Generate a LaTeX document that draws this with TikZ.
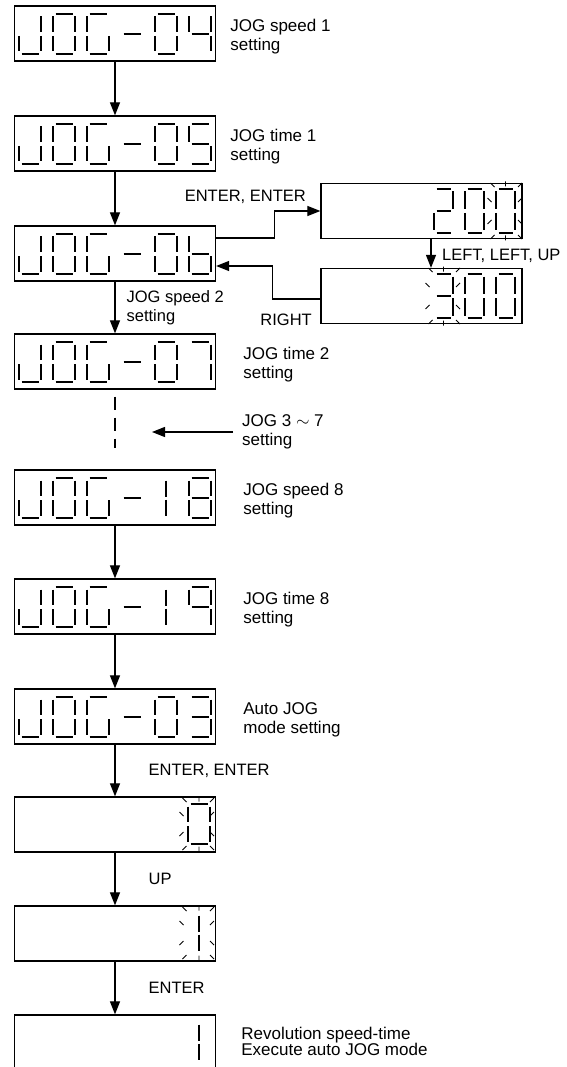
\documentclass[tikz,border=0pt]{standalone}
\usepackage{fontspec}
\setmainfont{Liberation Sans}
\usetikzlibrary{positioning,arrows.meta}

% seven segment glyphs: a top, b/c right, d bottom, e/f left, g middle, i centre bar
\newcommand{\defglyph}[2]{\expandafter\def\csname lcdglyph#1\endcsname{#2}}
\defglyph{J}{b,c,d,e}
\defglyph{O}{a,b,c,d,e,f}
\defglyph{G}{a,c,d,e,f}
\defglyph{-}{g}
\defglyph{0}{a,b,c,d,e,f}
\defglyph{1}{i}
\defglyph{2}{a,b,d,e,g}
\defglyph{3}{a,b,c,d,g}
\defglyph{4}{b,c,f,g}
\defglyph{5}{a,c,d,f,g}
\defglyph{6}{c,d,e,f,g}
\defglyph{7}{a,b,c}
\defglyph{8}{a,b,c,d,e,f,g}
\defglyph{9}{a,b,c,f,g}
\def\dw{22}
\def\dh{40}

\tikzset{
  lcd/.style={draw, line width=1.3pt, minimum width=201pt, minimum height=55pt, inner sep=0pt},
  seg/.style={line width=2.8pt},
  blinkmark/.style={line width=0.9pt},
  arr/.style={-{Triangle[length=13pt,width=10pt]}, line width=1.2pt},
  gapline/.style={line width=1.2pt, dash pattern=on 13pt off 8pt, shorten <=7pt, shorten >=21pt},
  sidelbl/.style={font=\fontsize{17pt}{19pt}\selectfont, align=left, inner sep=0pt},
  keylbl/.style={sidelbl, font=\fontsize{16.5pt}{19pt}\selectfont, anchor=west},
  sg-a/.style={insert path={(2.5,0) -- (\dw-2.5,0)}},
  sg-b/.style={insert path={(\dw,2.5) -- (\dw,\dh/2-2)}},
  sg-c/.style={insert path={(\dw,\dh/2+2) -- (\dw,\dh-2.5)}},
  sg-d/.style={insert path={(2.5,\dh) -- (\dw-2.5,\dh)}},
  sg-e/.style={insert path={(0,\dh/2+2) -- (0,\dh-2.5)}},
  sg-f/.style={insert path={(0,2.5) -- (0,\dh/2-2)}},
  sg-g/.style={insert path={(2.5,\dh/2) -- (\dw-2.5,\dh/2)}},
  sg-i/.style={insert path={(\dw/2,2.5) -- (\dw/2,\dh/2-1.5) (\dw/2,\dh/2+1.5) -- (\dw/2,\dh-2.5)}}
}

% one character at (left, top)
\newcommand{\lcdchar}[3]{%
  \edef\seglist{\csname lcdglyph#3\endcsname}%
  \begin{scope}[shift={(#1,#2)}]
    \foreach \s in \seglist {\draw[seg] (0,0) [sg-\s];}
  \end{scope}}

% blinking marks round a character, #3 = room on the right
\newcommand{\blink}[3]{%
  \begin{scope}[shift={(#1,#2)}, blinkmark]
    \draw (-1.5,-2) -- (-5.5,-6) (\dw+#3,-2) -- (\dw+#3+4,-6)
      (-1.5,\dh+2) -- (-5.5,\dh+6) (\dw+#3,\dh+2) -- (\dw+#3+4,\dh+6)
      (\dw/2,-2.5) -- (\dw/2,-7.5) (\dw/2,\dh+2.5) -- (\dw/2,\dh+7.5)
      (-4.5,\dh/4+2) -- (-8.5,\dh/4-2) (-4.5,3*\dh/4-2) -- (-8.5,3*\dh/4+2)
      (\dw+#3,\dh/4+2) -- (\dw+#3+4,\dh/4-2) (\dw+#3,3*\dh/4-2) -- (\dw+#3+4,3*\dh/4+2);
  \end{scope}}

\begin{document}
\begin{tikzpicture}[x=1pt, y=-1pt]
\useasboundingbox (0,0) rectangle (566,1067);
\clip (0,0) rectangle (566,1067);
% JOG parameter displays
\foreach \bn/\by/\da/\db in {j04/6/0/4, j05/116/0/5, j06/226/0/6, j07/334/0/7, j18/470/1/8, j19/579/1/9, j03/689/0/3}{
  \node[lcd] (\bn) at (115,\by+27.5) {};
  \foreach \ch [count=\k from 0] in {J,O,G,-,\da,\db} {\lcdchar{19+34*\k}{\by+8}{\ch}}
}
% value displays
\node[lcd] (r200) at (421.5,211) {};
\node[lcd] (r300) at (421.5,296) {};
\begin{scope}
  \def\dw{19}\def\dh{44}
  \foreach \ch [count=\k from 0] in {2,0,0} {\lcdchar{434+31*\k}{189}{\ch}}
  \foreach \ch [count=\k from 0] in {3,0,0} {\lcdchar{434+31*\k}{274}{\ch}}
  \blink{496}{189}{3}
  \blink{434}{274}{3}
\end{scope}
\node[lcd] (v0) at (115,824.5) {};
\node[lcd] (v1) at (115,933.5) {};
\node[lcd] (run) at (115,1042.5) {};
\lcdchar{188}{804}{0}
\blink{188}{804}{0}
\lcdchar{188}{913}{1}
\blink{188}{913}{0}
\lcdchar{188}{1022}{1}

% side texts
\node[sidelbl, right=14pt of j04, yshift=-3.5pt] (t04) {JOG speed 1\\setting};
\node[sidelbl, right=14pt of j05, yshift=-3.5pt] (t05) {JOG time 1\\setting};
\node[sidelbl, right=27pt of j07, yshift=-3.5pt] (t07) {JOG time 2\\setting};
\node[sidelbl, anchor=west] (t37) at (242,432) {JOG 3 $\sim$ 7\\setting};
\node[sidelbl, right=27pt of j18, yshift=-3.5pt] (t18) {JOG speed 8\\setting};
\node[sidelbl, right=27pt of j19, yshift=-3.5pt] (t19) {JOG time 8\\setting};
\node[sidelbl, right=27pt of j03, yshift=-3.5pt] (t03) {Auto JOG\\mode setting};
\node[sidelbl, font=\fontsize{17pt}{16pt}\selectfont, right=25pt of run, yshift=1pt] (trun) {Revolution speed-time\\Execute auto JOG mode};

% main column
\draw[arr] (j04) -- (j05);
\draw[arr] (j05) -- (j06);
\draw[arr] (j06) -- node[keylbl, xshift=11pt]{JOG speed 2\\setting} (j07);
\draw[gapline] (j07) -- (j18);
\coordinate (gap) at (152,432);
\draw[arr] (t37.west) ++(-9,0) -- (gap);
\draw[arr] (j18) -- (j19);
\draw[arr] (j19) -- (j03);
\draw[arr] (j03) -- node[keylbl, xshift=33pt]{ENTER, ENTER} (v0);
\draw[arr] (v0) -- node[keylbl, xshift=33pt]{UP} (v1);
\draw[arr] (v1) -- node[keylbl, xshift=33pt]{ENTER} (run);

% value edit loop
\draw[arr] ([yshift=15.5pt]j06.east) -- ++(58,0) |- (r200.west);
\node[keylbl, anchor=base east] (tee) at (306,202) {ENTER, ENTER};
\draw[arr] ([xshift=9.5pt]r200.south) -- ([xshift=9.5pt]r300.north);
\node[keylbl, anchor=base west] (tlu) at (442,261) {LEFT, LEFT, UP};
\draw[arr] ([yshift=-3pt]r300.west) -- ++(-48,0) |- ([yshift=-12.5pt]j06.east);
\node[keylbl, anchor=base east] (trt) at (312,325) {RIGHT};
\end{tikzpicture}
\end{document}
